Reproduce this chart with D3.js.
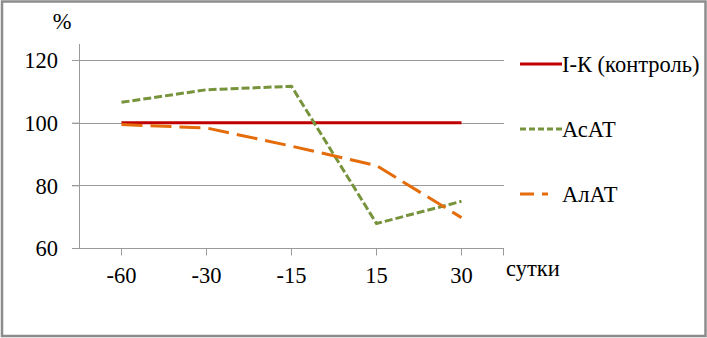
<!DOCTYPE html>
<html>
<head>
<meta charset="utf-8">
<script src="https://cdn.jsdelivr.net/npm/d3@7"></script>
<style>
  body { margin: 0; background: #fff; }
  text { font-family: "Liberation Serif", "Times New Roman", serif !important; }
</style>
</head>
<body>
<script>
"use strict"

// data
var days = ["-60", "-30", "-15", "15", "30"];
var control = [100, 100, 100, 100, 100];
var asat = [106.5, 110.5, 111.6, 67.8, 74.9];
var alat = [99.4, 98.3, 92.5, 86.3, 69.7];
var yTicks = [60, 80, 100, 120];

var seriesNames = ["I-К (контроль)", "АсАТ", "АлАТ"];
var seriesColors = ["#c00000", "#77933c", "#e46c0a"];
var seriesDash = [null, "8 3", "21 8"];

var FONT = "'Times New Roman'";
var FS = 22.5;

var W = 707, H = 338;
var margin = {top: 44, right: 203, bottom: 90, left: 79},
  width = W - margin.left - margin.right,
  height = 248 - margin.top;

var svg = d3.select("body")
  .append("svg")
    .attr("width", W)
    .attr("height", H);

// outer frame
svg.append("rect")
  .attr("x", 2).attr("y", 1.5)
  .attr("width", 703.5).attr("height", 334.5)
  .attr("fill", "none")
  .attr("stroke", "#8c8c8c")
  .attr("stroke-width", 2.5);

var g = svg.append("g")
  .attr("transform", "translate(" + margin.left + "," + margin.top + ")");

var x = d3.scalePoint()
  .domain(days)
  .range([0, width])
  .padding(0.5);

// 120 sits 16px below the plot top, 20 units ~ 62.7px
var y = d3.scaleLinear()
  .domain([60, 125.1])
  .range([height, 0]);

// gridlines
g.append("g")
  .selectAll("line")
  .data(yTicks.filter(d => d > 60))
  .join("line")
    .attr("x1", -7)
    .attr("x2", width)
    .attr("y1", d => Math.round(y(d)) + 0.5)
    .attr("y2", d => Math.round(y(d)) + 0.5)
    .attr("stroke", "#9a9a9a")
    .attr("stroke-width", 1);

// y axis
var yAxis = g.append("g")
  .call(d3.axisLeft(y).tickValues(yTicks).tickSize(7).tickPadding(14))
  .attr("font-family", null)
  .attr("font-size", null);
yAxis.select(".domain").remove();
yAxis.selectAll(".tick line").attr("stroke", "#9a9a9a");
yAxis.selectAll(".tick text")
  .style("font-family", FONT)
  .attr("font-size", FS)
  .attr("fill", "#000")
  .attr("dy", "0.35em");
g.append("line")
  .attr("x1", 0.5).attr("x2", 0.5)
  .attr("y1", 0).attr("y2", height)
  .attr("stroke", "#9a9a9a");

// x axis
var xg = g.append("g")
  .attr("transform", "translate(0," + (Math.round(height) + 0.5) + ")");
xg.append("line")
  .attr("x1", -7).attr("x2", width)
  .attr("stroke", "#9a9a9a");
xg.selectAll(".tk")
  .data(days)
  .join("line")
    .attr("class", "tk")
    .attr("x1", d => x(d)).attr("x2", d => x(d))
    .attr("y1", 0).attr("y2", 7)
    .attr("stroke", "#9a9a9a");
xg.append("line")
  .attr("x1", width - 0.5).attr("x2", width - 0.5)
  .attr("y1", 0).attr("y2", 7)
  .attr("stroke", "#9a9a9a");
xg.selectAll(".lbl")
  .data(days)
  .join("text")
    .attr("class", "lbl")
    .attr("x", d => x(d))
    .attr("y", 34)
    .attr("text-anchor", "middle")
    .style("font-family", FONT)
    .attr("font-size", FS)
    .text(d => d);

svg.append("text")
  .attr("x", 506).attr("y", 276)
  .style("font-family", FONT)
  .attr("font-size", FS)
  .text("сутки");

svg.append("text")
  .attr("x", 62).attr("y", 29)
  .attr("text-anchor", "middle")
  .style("font-family", FONT)
  .attr("font-size", FS)
  .text("%");

// lines
var allSeries = [control, asat, alat];
var line = d3.line()
  .x((d, i) => x(days[i]))
  .y(d => y(d));

g.append("g")
  .selectAll("path")
  .data(allSeries)
  .join("path")
    .attr("d", d => line(d))
    .attr("fill", "none")
    .attr("stroke", (d, i) => seriesColors[i])
    .attr("stroke-width", 3)
    .attr("stroke-dasharray", (d, i) => seriesDash[i]);

// legend
var legend = svg.append("g")
  .selectAll("g")
  .data(seriesNames)
  .join("g")
    .attr("transform", (d, i) => "translate(520," + (64 + i * 65) + ")");
legend.append("line")
  .attr("x1", 0).attr("x2", 42)
  .attr("stroke", (d, i) => seriesColors[i])
  .attr("stroke-width", 3)
  .attr("stroke-dasharray", (d, i) => i == 2 ? "14 8 6" : seriesDash[i] ? "6 3" : null);
legend.append("text")
  .attr("x", 42)
  .attr("y", 7.5)
  .style("font-family", FONT)
  .attr("font-size", FS)
  .text(d => d);
</script>
</body>
</html>
